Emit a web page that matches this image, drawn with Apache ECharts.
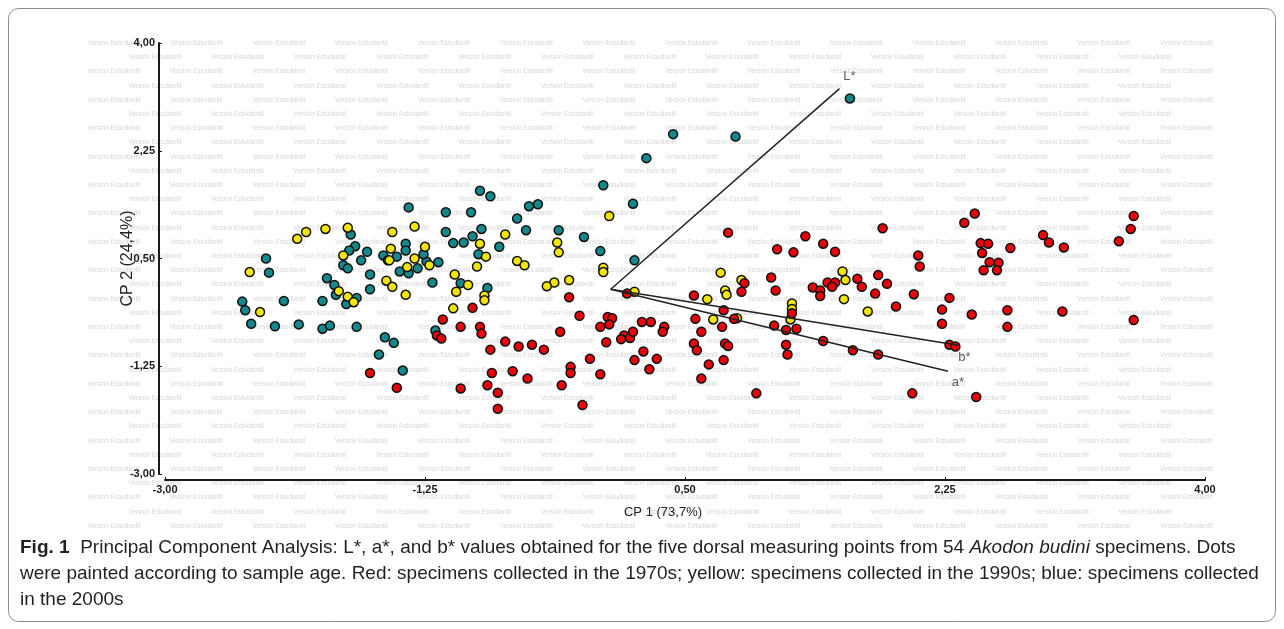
<!DOCTYPE html>
<html>
<head>
<meta charset="utf-8">
<script src="https://cdn.jsdelivr.net/npm/echarts@6/dist/echarts.min.js"></script>
<style>
  html, body { margin: 0; padding: 0; background: #fff; }
  #pca { width: 1284px; height: 629px; }
</style>
</head>
<body>
<div id="pca"></div>
<script>
// tick values of both axes
const xTicks = [-3, -1.25, 0.5, 2.25, 4];
const yTicks = [-3, -1.25, 0.5, 2.25, 4];

// loadings (biplot vectors)
const vectorNames = ['L*', 'a*', 'b*'];
const vectorEnds = [[1.54, 3.26], [2.27, -1.33], [2.34, -0.91]];

// scores
const blue2000s = [
  [1.61,3.10],[0.84,2.48],[0.42,2.52],[0.24,2.13],[-0.05,1.69],[0.15,1.39],[0.16,0.47],[-0.07,0.62],
  [-0.18,0.85],[-0.35,0.96],[-0.49,1.38],[-0.55,1.35],[-0.57,0.96],[-0.63,1.15],[-0.75,0.69],[-0.81,1.51],
  [-0.88,1.60],[-0.87,0.98],[-0.93,0.86],[-0.94,1.25],[-0.99,0.76],[-1.06,0.75],[-0.89,0.57],[-1.11,0.93],
  [-1.11,1.25],[-1.16,0.44],[-1.01,0.10],[-1.20,0.11],[-0.83,0.02],[-1.18,-0.67],[-1.24,0.45],[-1.26,0.57],
  [-1.30,0.34],[-1.36,1.33],[-1.38,0.74],[-1.38,0.63],[-1.44,0.53],[-1.53,0.55],[-1.50,0.47],[-1.42,0.29],
  [-1.36,0.26],[-1.62,0.24],[-1.64,0.61],[-1.68,0.47],[-1.72,0.70],[-1.76,0.63],[-1.75,0.89],[-1.80,0.39],
  [-1.77,0.34],[-1.91,0.18],[-1.86,0.07],[-1.85,-0.09],[-1.62,0.00],[-1.71,-0.14],[-1.78,-0.24],[-2.32,0.50],
  [-2.30,0.27],[-2.48,-0.20],[-2.46,-0.34],[-2.20,-0.19],[-1.94,-0.19],[-2.42,-0.56],[-2.26,-0.60],[-2.10,-0.57],
  [-1.94,-0.64],[-1.89,-0.59],[-1.71,-0.61],[-1.52,-0.78],[-1.46,-0.87],[-1.56,-1.06],[-1.40,-1.32]
];
const yellow1990s = [
  [-0.01,1.19],[-0.05,0.35],[-0.05,0.28],[0.16,-0.04],[-0.28,0.15],[-0.38,0.11],[-0.43,0.05],[-0.36,0.76],
  [-0.35,0.60],[-0.71,0.89],[-0.88,0.74],[-0.84,0.53],[-0.63,0.46],[-0.58,0.39],[-0.90,0.37],[-1.05,0.24],
  [-0.96,0.07],[-1.04,-0.04],[-0.85,-0.10],[-0.85,-0.18],[-1.06,-0.31],[-1.22,0.39],[-1.25,0.69],[-1.32,1.02],
  [-1.32,0.50],[-1.37,0.36],[-1.47,0.93],[-1.48,0.66],[-1.49,0.47],[-1.51,0.14],[-1.47,0.04],[-1.38,-0.09],
  [-1.77,1.00],[-1.80,0.55],[-1.83,-0.03],[-1.77,-0.12],[-1.73,-0.21],[-1.92,0.98],[-2.05,0.93],[-2.11,0.82],
  [-2.43,0.28],[-2.36,-0.37],[0.74,0.27],[0.88,0.15],[0.77,-0.02],[0.78,-0.09],[0.65,-0.16],[0.69,-0.49],
  [0.85,-0.47],[1.56,0.29],[1.58,0.15],[1.57,-0.16],[1.73,-0.36],[1.22,-0.23],[1.22,-0.32],[1.21,-0.49]
];
const red1970s = [
  [-1.62,-1.36],[-1.44,-1.60],[-1.13,-0.49],[-1.17,-0.75],[-1.14,-0.80],[-1.01,-0.61],[-0.93,-0.30],[-0.88,-0.61],
  [-0.87,-0.72],[-0.81,-0.98],[-0.71,-0.85],[-0.62,-0.93],[-0.53,-0.90],[-0.45,-0.98],[-0.80,-1.36],[-0.66,-1.33],
  [-0.56,-1.45],[-0.83,-1.56],[-0.76,-1.68],[-1.01,-1.61],[-0.76,-1.94],[-0.33,-1.56],[-0.19,-1.88],[-0.27,-1.26],
  [-0.27,-1.36],[-0.07,-1.38],[-0.14,-1.13],[-0.34,-0.69],[-0.28,-0.13],[-0.21,-0.43],[-0.02,-0.45],[0.01,-0.47],
  [-0.07,-0.61],[-0.01,-0.57],[-0.03,-0.86],[0.09,-0.75],[0.13,-0.79],[0.07,-0.81],[0.15,-0.69],[0.11,-0.07],
  [0.21,-0.53],[0.27,-0.53],[0.36,-0.61],[0.35,-0.69],[0.22,-1.01],[0.16,-1.15],[0.31,-1.13],[0.26,-1.30],
  [0.56,-0.10],[0.57,-0.48],[0.56,-0.88],[0.58,-0.99],[0.61,-0.69],[0.66,-1.22],[0.61,-1.45],[0.76,-1.15],
  [0.77,-0.88],[0.79,-0.92],[0.75,-0.61],[0.76,-0.34],[0.83,-0.48],[0.79,0.92],[0.90,0.10],[0.88,-0.04],
  [1.08,0.19],[1.11,-0.02],[1.12,0.65],[1.23,0.60],[1.31,0.86],[1.43,0.74],[1.51,0.61],[1.36,0.03],
  [1.41,-0.02],[1.46,0.11],[1.51,0.11],[1.49,0.04],[1.41,-0.11],[1.66,0.17],[1.69,0.04],[1.80,0.23],
  [1.86,0.09],[1.78,-0.07],[1.83,0.99],[2.04,-0.08],[1.92,-0.28],[2.07,0.55],[2.08,0.37],[2.28,-0.14],
  [2.23,-0.33],[2.23,-0.56],[2.43,-0.41],[2.38,1.08],[2.45,1.23],[2.49,0.75],[2.54,0.74],[2.50,0.59],
  [2.69,0.67],[2.55,0.44],[2.61,0.43],[2.51,0.31],[2.60,0.31],[2.91,0.88],[2.95,0.76],[3.05,0.68],
  [3.52,1.19],[3.50,0.98],[3.42,0.78],[2.67,-0.34],[2.67,-0.61],[3.04,-0.36],[3.52,-0.50],[2.46,-1.75],
  [2.03,-1.69],[0.98,-1.69],[1.10,-0.59],[1.18,-0.66],[1.25,-0.64],[1.22,-0.39],[1.18,-0.90],[1.19,-1.06],
  [1.43,-0.84],[1.63,-0.99],[1.80,-1.06],[2.28,-0.90],[2.32,-0.93]
];

const captionLines = [
  'Principal Component Analysis: L*, a*, and b* values obtained for the five dorsal measuring points from 54 ',
  'were painted according to sample age. Red: specimens collected in the 1970s; yellow: specimens collected in the 1990s; blue: specimens collected',
  'in the 2000s'
];

const fmt = v => v.toFixed(2).replace('.', ',');

let chart = echarts.init(document.getElementById('pca'));

// size the caption font so the first two lines fill the figure width like in the original
const capFamily = '"Liberation Sans", Arial, sans-serif';
let ctx = document.createElement('canvas').getContext('2d');
ctx.font = '100px ' + capFamily;
let w1 = ctx.measureText('Fig. 1  ' + captionLines[0] + 'Akodon budini specimens. Dots').width;
let w2 = ctx.measureText(captionLines[1]).width;
let capSize = 100 * (1242 + 1212) / (w1 + w2);

// "Versión Estudiantil" watermark rows behind the plot
let marks = [];
for (let i = 0; i < 35; i++) {
  let y = 43.3 + i * 14.2;
  let x0 = i % 2 === 0 ? 87.5 : 128.5;
  for (let x = x0; x + 50 < 1236; x += 82.5) {
    marks.push({
      type: 'text', x: x, y: y, z: -10, silent: true,
      style: { text: 'Versión Estudiantil', fill: '#d6d6d6', font: '6.4px "Liberation Sans", Arial', verticalAlign: 'middle' }
    });
  }
}

function scatterSeries(name, data, color) {
  return {
    name: name,
    type: 'scatter',
    data: data,
    symbol: 'circle',
    symbolSize: 9,
    itemStyle: { color: color, borderColor: '#111', borderWidth: 1.5, opacity: 1 },
    z: 3
  };
}

let vectorSeries = vectorNames.map((n, i) => ({
  name: n,
  type: 'line',
  data: [[0, 0], vectorEnds[i]],
  symbol: 'none',
  lineStyle: { color: '#222', width: 1.5 },
  z: 5
}));

const labelOffsets = [[10, -12], [10, 11], [6, 12]];

const axisBase = {
  type: 'value', min: -3, max: 4, interval: 1.75, offset: 6,
  axisLine: { onZero: false, lineStyle: { color: '#1a1a1a', width: 2 } },
  splitLine: { show: false },
  nameLocation: 'middle',
  nameMoveOverlap: false
};
const tickFont = { formatter: fmt, fontWeight: 'bold', fontSize: 11, color: '#1a1a1a', margin: 4, fontFamily: '"Liberation Sans", Arial' };

chart.setOption({
  animation: false,
  backgroundColor: '#fff',
  grid: { left: 165, right: 79, top: 43, bottom: 155 },
  xAxis: Object.assign({}, axisBase, {
    axisTick: { show: true, inside: true, length: 3, customValues: xTicks, lineStyle: { color: '#1a1a1a' } },
    axisLabel: Object.assign({ customValues: xTicks }, tickFont),
    name: 'CP 1 (73,7%)', nameGap: 26,
    nameTextStyle: { fontSize: 13, color: '#222', fontFamily: '"Liberation Sans", Arial', padding: [0, 44, 0, 0] }
  }),
  yAxis: Object.assign({}, axisBase, {
    axisTick: { show: true, inside: true, length: 3, customValues: yTicks, lineStyle: { color: '#1a1a1a' } },
    axisLabel: Object.assign({ customValues: yTicks }, tickFont),
    name: 'CP 2 (24,4%)', nameGap: 23,
    nameTextStyle: { fontSize: 16, color: '#222', fontFamily: '"Liberation Sans", Arial' }
  }),
  series: [
    scatterSeries('2000s', blue2000s, '#13898b'),
    scatterSeries('1990s', yellow1990s, '#f2e600'),
    scatterSeries('1970s', red1970s, '#e8000b'),
    ...vectorSeries,
    {
      name: 'loading labels',
      type: 'scatter',
      data: vectorEnds.map((p, i) => ({ value: p, name: vectorNames[i] })),
      symbolSize: 1,
      itemStyle: { color: 'rgba(0,0,0,0)' },
      label: {
        show: true,
        formatter: p => p.name,
        fontSize: 13, color: '#333', fontFamily: '"Liberation Sans", Arial'
      },
      labelLayout: p => ({ dx: labelOffsets[p.dataIndex][0], dy: labelOffsets[p.dataIndex][1] }),
      z: 6
    }
  ],
  graphic: [
    ...marks,
    {
      type: 'rect', z: 20, silent: true,
      shape: { x: 8.5, y: 8.5, width: 1267, height: 613, r: 10 },
      style: { fill: 'none', stroke: '#8a8a8a', lineWidth: 1 }
    },
    {
      type: 'text', x: 20, y: 548, z: 20,
      style: {
        text: '{b|Fig. 1}  ' + captionLines[0] + '{i|Akodon budini} specimens. Dots',
        font: capSize + 'px ' + capFamily, fill: '#231f20', verticalAlign: 'middle',
        rich: {
          b: { fontWeight: 'bold', fontSize: capSize, fontFamily: capFamily, fill: '#231f20' },
          i: { fontStyle: 'italic', fontSize: capSize, fontFamily: capFamily, fill: '#231f20' }
        }
      }
    },
    {
      type: 'text', x: 20, y: 574, z: 20,
      style: { text: captionLines[1], font: capSize + 'px ' + capFamily, fill: '#231f20', verticalAlign: 'middle' }
    },
    {
      type: 'text', x: 20, y: 600, z: 20,
      style: { text: captionLines[2], font: capSize + 'px ' + capFamily, fill: '#231f20', verticalAlign: 'middle' }
    }
  ]
});

window.addEventListener('resize', function () {
  chart.resize();
});
</script>
</body>
</html>
